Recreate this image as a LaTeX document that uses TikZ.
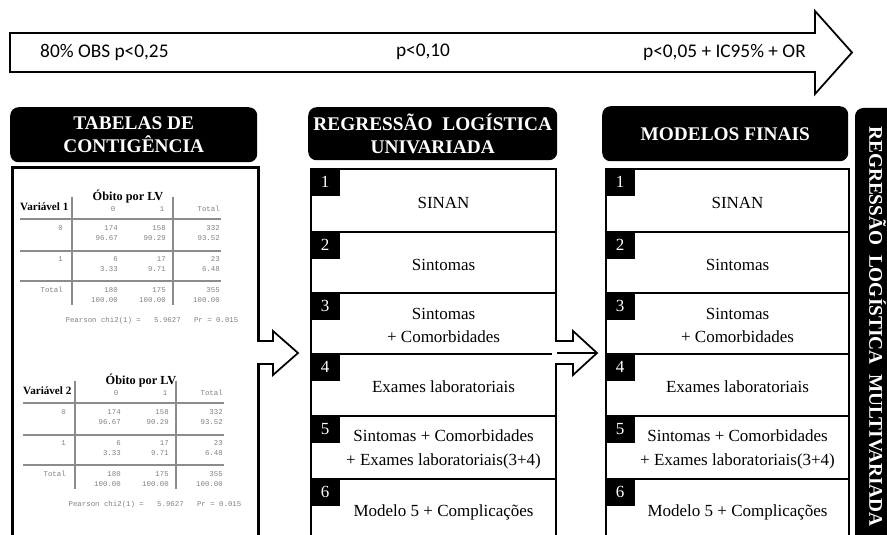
\documentclass[tikz,border=0pt]{standalone}
\usepackage{fontspec}
\setmainfont{Liberation Serif}
\setmonofont{Liberation Mono}
\newfontfamily\calibri{Carlito}
\newcommand\pix{0.03cm}

\begin{document}
\begin{tikzpicture}
[x=0.03cm, y=-0.03cm,
 box/.style={draw, line width=1.8pt, inner sep=0pt},
 header/.style={fill=black, text=white, rounded corners=0.25cm,
                align=center, inner sep=0pt,
                font=\bfseries\fontsize{16.5}{20}\selectfont},
 tag/.style={fill=black, text=white, inner sep=0pt,
             minimum width=30*\pix, minimum height=28*\pix,
             font=\fontsize{14.5}{16}\selectfont},
 rowtext/.style={align=center, inner sep=0pt,
                 font=\fontsize{14.5}{20}\selectfont},
 stat/.style={inner sep=0pt, text=black!50,
              font=\ttfamily\fontsize{6.3}{7.5}\selectfont},
 tabrule/.style={black!45, line width=1pt},
 flow/.style={draw, line width=1.5pt, fill=white, line join=miter},
 crit/.style={inner sep=0pt, font=\calibri\fontsize{16.5}{20}\selectfont}]

\useasboundingbox (0,0) rectangle (887,535);

% seta dos criterios
\path[flow] (10,33) -- (815,33) -- (815,11) -- (852,52.5) -- (815,94)
  -- (815,72) -- (10,72) -- cycle;
\node[crit, anchor=west] (c25) at (40,52) {80\% OBS p<0,25};
\node[crit] (c10) at (423,52) {p<0,10};
\node[crit, anchor=east] (c05) at (806,52) {p<0,05 + IC95\% + OR};

% cabecalhos
\node[header, anchor=north west, minimum width=247*\pix, minimum height=55*\pix]
  (tabhead) at (10,107) {TABELAS DE\\CONTIGÊNCIA};
\node[header, anchor=north west, minimum width=249*\pix, minimum height=53*\pix]
  (unihead) at (308,107) {REGRESSÃO~~LOGÍSTICA\\UNIVARIADA};
\node[header, anchor=north west, minimum width=246*\pix, minimum height=55*\pix]
  (finhead) at (602,106) {MODELOS FINAIS};
\node[header, rotate=-90, minimum width=437*\pix, minimum height=45*\pix]
  (multi) at (877.5,326.5) {REGRESSÃO~~LOGÍSTICA~~MULTIVARIADA};

% tabelas de contingencia
\node[box, line width=2.2pt, anchor=north west, minimum width=246*\pix,
  minimum height=380*\pix] (tabbox) at (11,166) {};
\foreach \k/\dx/\dy/\tx in {1/0/0/128, 2/3/184/138} {
  \begin{scope}[shift={(\dx,\dy)}]
    \node[inner sep=0pt, font=\bfseries\fontsize{10.5}{12}\selectfont]
      (obito\k) at (\tx,197) {Óbito por LV};
    \node[inner sep=0pt, anchor=west, font=\bfseries\fontsize{9.5}{11}\selectfont]
      (var\k) at (20,207) {Variável \k};
    \node[stat] (hd\k-0) at (113,209) {0};
    \node[stat] (hd\k-1) at (162,209) {1};
    \node[stat, anchor=east] (hd\k-t) at (220,209) {Total};
    \draw[tabrule] (72,197) -- (72,305) (173,197) -- (173,305);
    \foreach \yy in {219,251,281}
      \draw[tabrule] (20,\yy) -- (221,\yy);
    \foreach \lab/\yy/\a/\b/\c/\d/\e/\f in
      {0/228/174/96.67/158/90.29/332/93.52,
       1/259/6/3.33/17/9.71/23/6.48,
       Total/290/180/100.00/175/100.00/355/100.00} {
      \node[stat, anchor=east] (lb\k\lab) at (63,\yy) {\lab};
      \node[stat, anchor=east] (n\k\lab a) at (118,\yy) {\a};
      \node[stat, anchor=east] (p\k\lab a) at (118,\yy+10) {\b};
      \node[stat, anchor=east] (n\k\lab b) at (166,\yy) {\c};
      \node[stat, anchor=east] (p\k\lab b) at (166,\yy+10) {\d};
      \node[stat, anchor=east] (n\k\lab t) at (220,\yy) {\e};
      \node[stat, anchor=east] (p\k\lab t) at (220,\yy+10) {\f};
    }
    \node[stat] (chi\k) at (152,321)
      {Pearson chi2(1) =\ \ \ 5.9627\ \ \ Pr = 0.015};
  \end{scope}
}

% modelos: univariada (u) e finais (f)
\foreach \col/\xl/\xr in {u/310/555, f/605/848} {
  \foreach \i/\top/\bot/\txt in
    {1/168/231/SINAN,
     2/231/292/Sintomas,
     3/292/353/{Sintomas\\+ Comorbidades},
     4/353/415/Exames laboratoriais,
     5/415/478/{Sintomas + Comorbidades\\+ Exames laboratoriais(3+4)},
     6/478/540/Modelo 5 + Complicações} {
    \node[box, anchor=north west, minimum width=(\xr-\xl)*\pix,
      minimum height=(\bot-\top)*\pix] (\col\i) at (\xl,\top) {};
    \node[tag, anchor=north west] (\col\i n) at (\col\i.north west) {\i};
    \node[rowtext] (\col\i t) at ([xshift=10*\pix, yshift=-2*\pix]\col\i.center) {\txt};
  }
}

% setas entre as colunas
\fill[white] (254,342) rectangle (260,363);
\path[flow] (257,341) -- (273,341) -- (273,331) -- (298,353) -- (273,375)
  -- (273,364) -- (257,364);
\coordinate (tip1) at (298,353);

\fill[white] (552,342) rectangle (558,363);
\path[flow] (555,341) -- (573,341) -- (573,331) -- (597,353) -- (573,375)
  -- (573,364) -- (555,364);
\coordinate (tip2) at (597,353);
\draw[line width=1.6pt] (u4.north east) -- (tip2);
\end{tikzpicture}
\end{document}
